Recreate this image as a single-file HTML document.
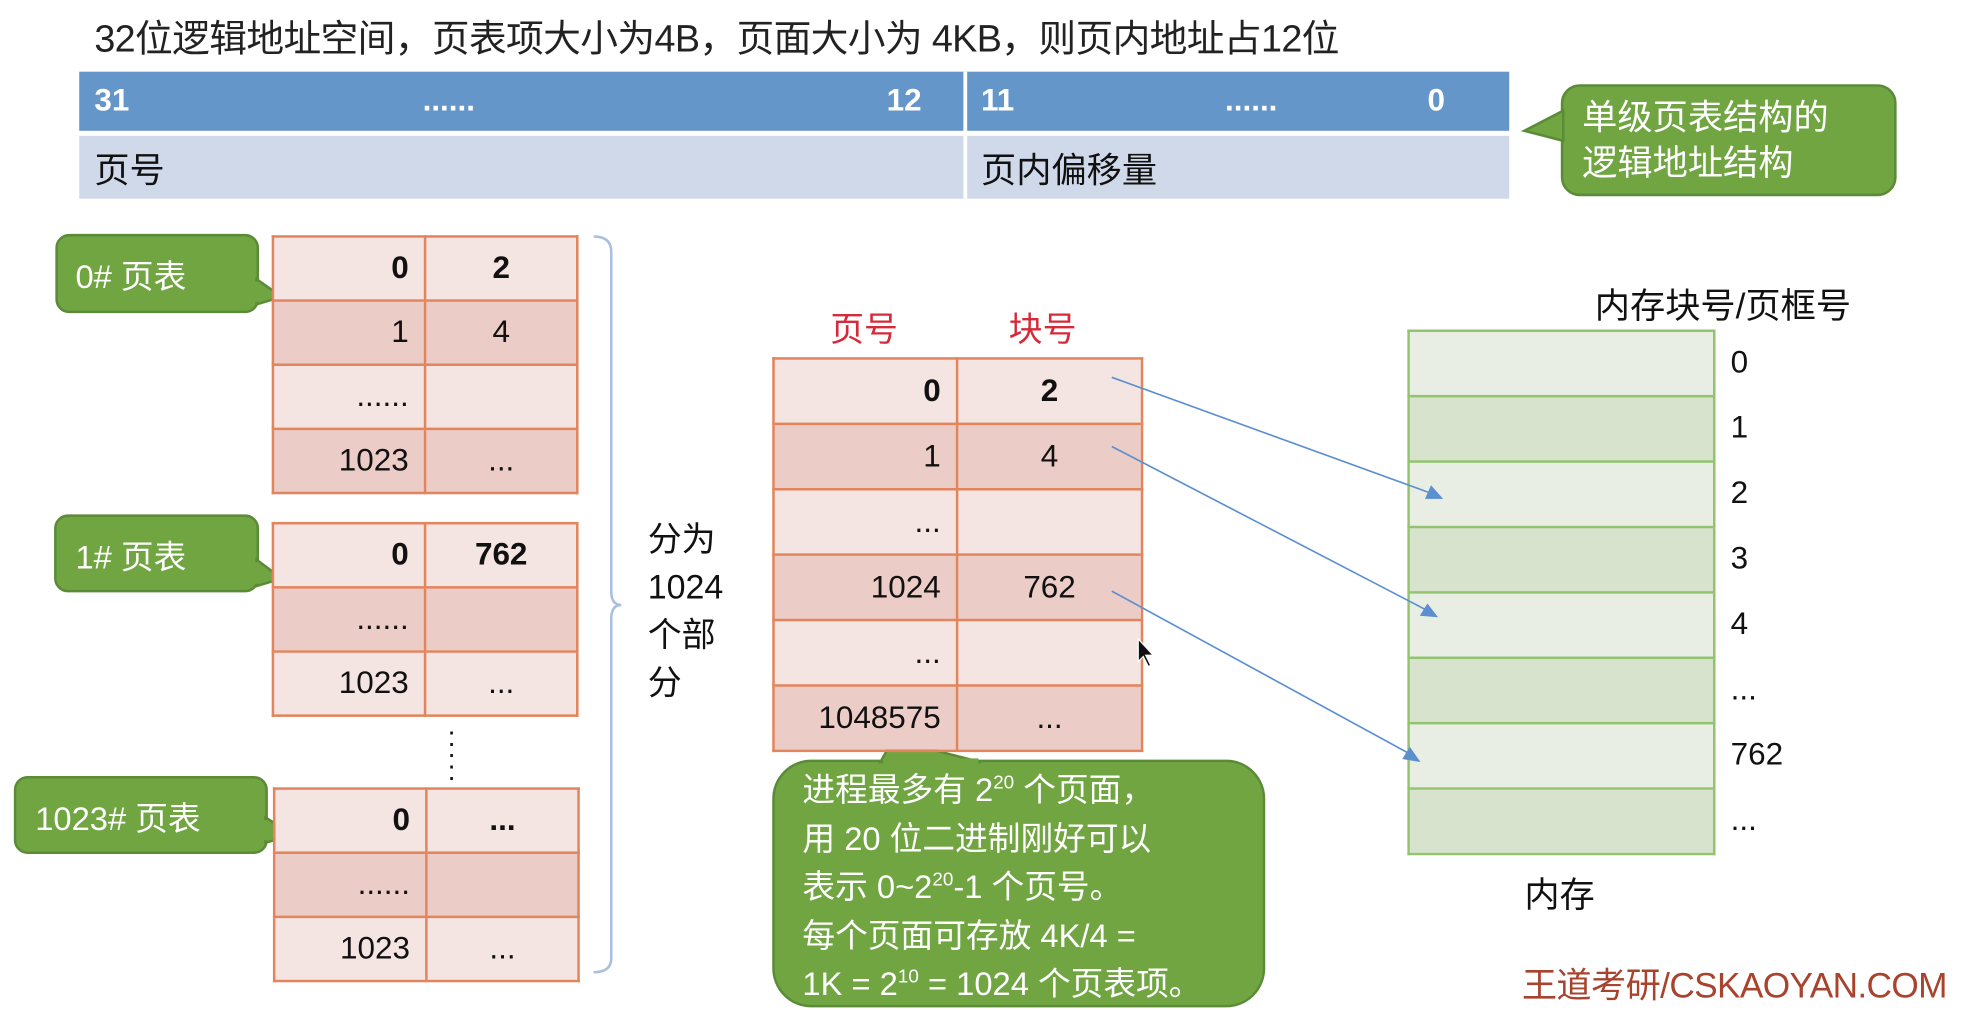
<!DOCTYPE html>
<html><head><meta charset="utf-8">
<style>
html,body{margin:0;padding:0;background:#fff;width:1972px;height:1010px;overflow:hidden}
#w{position:absolute;left:0;top:0;width:1568px;height:803px;transform:scale(1.2577);transform-origin:0 0;font-family:"Liberation Sans","Noto Sans CJK SC",sans-serif;color:#111}
.a{position:absolute;white-space:nowrap}
table{position:absolute;border-collapse:collapse;table-layout:fixed}
td{border:2px solid #e2845c;font-size:25px;padding:0;overflow:hidden}
td.l{text-align:right;padding-right:12px}
td.r{text-align:center}
tr.x td{background:#f4e4e2}
tr.y td{background:#ecccc6}
.b{font-weight:bold}
.m td{border:2px solid #92c46e;height:50px}
.m tr.x td{background:#e9eee4}
.m tr.y td{background:#d7e3cd}
.wt{color:#fff}
sup{font-size:15px;line-height:0;vertical-align:10px}
</style></head><body><div id="w">
<div class="a" style="left:75px;top:6px;font-size:30px;color:#222;letter-spacing:-0.5px">32位逻辑地址空间，页表项大小为4B，页面大小为 4KB，则页内地址占12位</div>

<div class="a" style="left:63px;top:57px;width:1137px;height:47px;background:#6596c9"></div>
<div class="a" style="left:766px;top:57px;width:3px;height:101px;background:#fff"></div>
<div class="a" style="left:63px;top:108px;width:1137px;height:50px;background:#d0d9ea"></div>
<div class="a" style="left:766px;top:108px;width:3px;height:50px;background:#fff"></div>
<div class="a wt b" style="left:75px;top:66px;font-size:25px">31</div>
<div class="a wt b" style="left:336px;top:66px;font-size:25px">......</div>
<div class="a wt b" style="left:705px;top:66px;font-size:25px">12</div>
<div class="a wt b" style="left:780px;top:66px;font-size:25px">11</div>
<div class="a wt b" style="left:974px;top:66px;font-size:25px">......</div>
<div class="a wt b" style="left:1135px;top:66px;font-size:25px">0</div>
<div class="a" style="left:75px;top:114px;font-size:28px">页号</div>
<div class="a" style="left:780px;top:114px;font-size:28px">页内偏移量</div>

<svg class="a" style="left:0;top:0" width="1568" height="803">
<g fill="#70a542" stroke="#5b8b37" stroke-width="2">
<rect x="1242" y="68" width="265" height="87" rx="14"/>
<polygon points="1243,88 1212,104 1243,112"/>
<rect x="45" y="187" width="160" height="61" rx="10"/>
<polygon points="204,222 224,236 204,242"/>
<rect x="44" y="410" width="161" height="60" rx="10"/>
<polygon points="204,445 224,460 204,466"/>
<rect x="12" y="618" width="200" height="60" rx="10"/>
<polygon points="211,650 234,664 211,670"/>
<rect x="615" y="605" width="390" height="195" rx="30"/>
<polygon points="700,606 710,588 780,606"/>
</g>
<g fill="#70a542">
<rect x="1244" y="90" width="6" height="20"/>
<rect x="199" y="224" width="7" height="16"/>
<rect x="199" y="447" width="7" height="17"/>
<rect x="206" y="652" width="7" height="16"/>
<rect x="702" y="603" width="76" height="6"/>
</g>
<path d="M472,188 Q486,188 486,200 L486,470 Q486,481 494,481 Q486,481 486,492 L486,762 Q486,773 472,773" fill="none" stroke="#a8c0de" stroke-width="2"/>
</svg>

<div class="a wt" style="left:1258px;top:76px;font-size:28px;line-height:36px">单级页表结构的<br>逻辑地址结构</div>
<div class="a wt" style="left:60px;top:200px;font-size:26px">0# 页表</div>
<div class="a wt" style="left:60px;top:423px;font-size:26px">1# 页表</div>
<div class="a wt" style="left:28px;top:631px;font-size:26px">1023# 页表</div>
<div class="a wt" style="left:638px;top:609px;font-size:26px;line-height:38.5px">进程最多有 2<sup>20</sup> 个页面，<br>用 20 位二进制刚好可以<br>表示 0~2<sup>20</sup>-1 个页号。<br>每个页面可存放 4K/4 =<br>1K = 2<sup>10</sup> = 1024 个页表项。</div>

<table style="left:216px;top:187px;width:242px">
<colgroup><col style="width:121px"><col style="width:121px"></colgroup>
<tr class="x" style="height:51px"><td class="l b">0</td><td class="r b">2</td></tr>
<tr class="y" style="height:51px"><td class="l">1</td><td class="r">4</td></tr>
<tr class="x" style="height:51px"><td class="l">......</td><td class="r"></td></tr>
<tr class="y" style="height:51px"><td class="l">1023</td><td class="r">...</td></tr>
</table>
<table style="left:216px;top:415px;width:242px">
<colgroup><col style="width:121px"><col style="width:121px"></colgroup>
<tr class="x" style="height:51px"><td class="l b">0</td><td class="r b">762</td></tr>
<tr class="y" style="height:51px"><td class="l">......</td><td class="r"></td></tr>
<tr class="x" style="height:51px"><td class="l">1023</td><td class="r">...</td></tr>
</table>
<div class="a" style="left:356px;top:572px;font-size:22px;line-height:9px">.<br>.<br>.<br>.<br>.</div>
<table style="left:217px;top:626px;width:242px">
<colgroup><col style="width:121px"><col style="width:121px"></colgroup>
<tr class="x" style="height:51px"><td class="l b">0</td><td class="r b">...</td></tr>
<tr class="y" style="height:51px"><td class="l">......</td><td class="r"></td></tr>
<tr class="x" style="height:51px"><td class="l">1023</td><td class="r">...</td></tr>
</table>

<div class="a" style="left:515px;top:410px;font-size:27px;line-height:38px">分为<br>1024<br>个部<br>分</div>

<div class="a" style="left:660px;top:240px;font-size:27px;color:#d42a3a">页号</div>
<div class="a" style="left:802px;top:240px;font-size:27px;color:#d42a3a">块号</div>
<table style="left:614px;top:284px;width:293px">
<colgroup><col style="width:146px"><col style="width:147px"></colgroup>
<tr class="x" style="height:52px"><td class="l b">0</td><td class="r b">2</td></tr>
<tr class="y" style="height:52px"><td class="l">1</td><td class="r">4</td></tr>
<tr class="x" style="height:52px"><td class="l">...</td><td class="r"></td></tr>
<tr class="y" style="height:52px"><td class="l">1024</td><td class="r">762</td></tr>
<tr class="x" style="height:52px"><td class="l">...</td><td class="r"></td></tr>
<tr class="y" style="height:52px"><td class="l">1048575</td><td class="r">...</td></tr>
</table>

<div class="a" style="left:1268px;top:222px;font-size:28px">内存块号/页框号</div>
<table class="m" style="left:1119px;top:262px;width:245px">
<tr class="x"><td></td></tr><tr class="y"><td></td></tr>
<tr class="x"><td></td></tr><tr class="y"><td></td></tr>
<tr class="x"><td></td></tr><tr class="y"><td></td></tr>
<tr class="x"><td></td></tr><tr class="y"><td></td></tr>
</table>
<div class="a" style="left:1376px;top:262px;font-size:25px;line-height:52px">0<br>1<br>2<br>3<br>4<br>...<br>762<br>...</div>
<div class="a" style="left:1212px;top:690px;font-size:28px">内存</div>
<div class="a" style="left:1210px;top:762px;font-size:28px;color:#a8432d;letter-spacing:-0.5px">王道考研/CSKAOYAN.COM</div>

<svg class="a" style="left:0;top:0" width="1568" height="803">
<g stroke="#5b8fd0" stroke-width="1.3" fill="#5b8fd0">
<line x1="884" y1="300" x2="1140" y2="393"/>
<polygon points="1146,396 1134,396 1138,387"/>
<line x1="884" y1="355" x2="1136" y2="486"/>
<polygon points="1142,490 1130,489 1135,481"/>
<line x1="884" y1="470" x2="1122" y2="600"/>
<polygon points="1128,605 1116,603 1121,595"/>
</g>
<polygon points="905,508 905,526 909,522 913,530 915,529 911,521 917,521" fill="#111" stroke="#fff" stroke-width="1"/>
</svg>
</div></body></html>
